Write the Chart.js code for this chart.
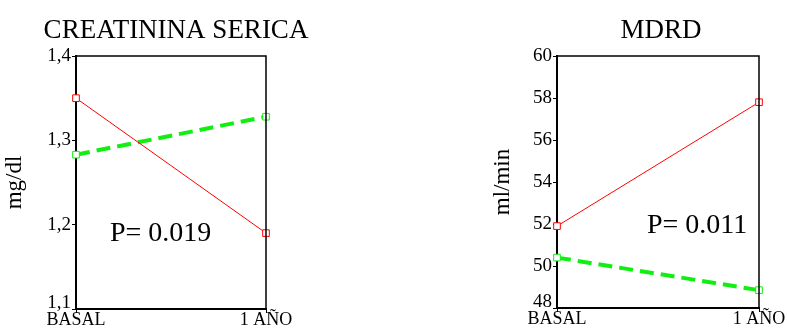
<!DOCTYPE html>
<html>
<head>
<meta charset="utf-8">
<script src="https://cdn.jsdelivr.net/npm/chart.js@4.4.1/dist/chart.umd.min.js"></script>
<style>
  body { margin: 0; background: #fff; }
  #wrap { position: relative; width: 787px; height: 331px; }
  .box { position: absolute; top: 0; height: 331px; }
</style>
</head>
<body>
<div id="wrap">
  <div class="box" style="left:0;width:330px"><canvas id="creatChart"></canvas></div>
  <div class="box" style="left:480px;width:307px"><canvas id="mdrdChart"></canvas></div>
</div>
<script>
const categories = ['BASAL', '1 AÑO'];

const creatRed = [1.35, 1.19];
const creatGreen = [1.283, 1.328];
const creatTicks = [1.1, 1.2, 1.3, 1.4];
const creatTickLabels = ['1,1', '1,2', '1,3', '1,4'];

const mdrdRed = [51.9, 57.8];
const mdrdGreen = [50.4, 48.85];
const mdrdTicks = [48, 50, 52, 54, 56, 58, 60];
const mdrdTickLabels = ['48', '50', '52', '54', '56', '58', '60'];

Chart.defaults.font.family = "'Liberation Serif', 'Times New Roman', serif";
Chart.defaults.color = '#000';

// title, p-value and the thin top/right frame
const extras = {
  id: 'extras',
  beforeDraw(chart) {
    // lowest y label sits a bit above its tick, like the original
    const items = chart.scales.y.getLabelItems();
    if (items.length && !items[0].moved) {
      items[0].options.translation[1] -= 6;
      items[0].moved = true;
    }
  },
  afterDraw(chart, args, opts) {
    const {ctx, chartArea: a} = chart;
    ctx.save();
    ctx.strokeStyle = '#000';
    ctx.lineWidth = 1.5;
    ctx.beginPath();
    ctx.moveTo(a.left, a.top);
    ctx.lineTo(a.right, a.top);
    ctx.lineTo(a.right, a.bottom);
    ctx.stroke();
    ctx.fillStyle = '#000';
    ctx.textBaseline = 'alphabetic';
    ctx.font = "27px 'Liberation Serif'";
    ctx.textAlign = 'center';
    ctx.fillText(opts.title, opts.titleX, 38);
    ctx.font = "28px 'Liberation Serif'";
    ctx.textAlign = 'left';
    ctx.fillText(opts.ptext, opts.pX, opts.pY);
    ctx.restore();
  }
};

function makeChart(id, red, green, ticks, tickLabels, yTitle, axisW, axisH, padRight, titlePad, extra) {
  return new Chart(document.getElementById(id), {
    type: 'line',
    data: {
      labels: categories,
      datasets: [
        {
          data: red,
          borderColor: '#ff0000',
          borderWidth: 1,
          pointStyle: 'rect',
          pointRadius: 4.7,
          pointBorderWidth: 1,
          pointBorderColor: '#ff0000',
          pointBackgroundColor: '#fff',
          clip: false
        },
        {
          data: green,
          borderColor: '#11ee11',
          borderWidth: 4,
          borderDash: [14, 7],
          pointStyle: 'rect',
          pointRadius: 4.7,
          pointBorderWidth: 1,
          pointBorderColor: '#11ee11',
          pointBackgroundColor: '#fff',
          clip: false
        }
      ]
    },
    options: {
      responsive: true,
      maintainAspectRatio: false,
      animation: false,
      layout: {
        autoPadding: false,
        padding: {top: 56, right: padRight, bottom: 0, left: 0}
      },
      plugins: {
        legend: {display: false},
        tooltip: {enabled: false},
        extras: extra
      },
      scales: {
        x: {
          offset: false,
          afterFit: (s) => { s.height = axisH; },
          grid: {drawOnChartArea: false, drawTicks: true, tickLength: 4, color: '#000', offset: false},
          border: {color: '#000', width: 2},
          ticks: {font: {size: 18}, padding: -4, maxRotation: 0}
        },
        y: {
          min: ticks[0],
          max: ticks[ticks.length - 1],
          afterFit: (s) => { s.width = axisW; },
          afterBuildTicks: (s) => { s.ticks = ticks.map(v => ({value: v})); },
          grid: {drawOnChartArea: false, drawTicks: true, tickLength: 4, color: '#000'},
          border: {color: '#000', width: 2},
          ticks: {
            font: {size: 19},
            padding: 1,
            callback: (v, i) => tickLabels[i]
          },
          title: {display: true, text: yTitle, font: {size: 23}, padding: {top: titlePad, bottom: 0}}
        }
      }
    },
    plugins: [extras]
  });
}

makeChart('creatChart', creatRed, creatGreen, creatTicks, creatTickLabels, 'mg/dl', 76, 22, 64, 1,
  {title: 'CREATININA SERICA', titleX: 176, ptext: 'P= 0.019', pX: 110, pY: 241});

makeChart('mdrdChart', mdrdRed, mdrdGreen, mdrdTicks, mdrdTickLabels, 'ml/min', 77, 23, 28, 9,
  {title: 'MDRD', titleX: 181, ptext: 'P= 0.011', pX: 167, pY: 233});
</script>
</body>
</html>
